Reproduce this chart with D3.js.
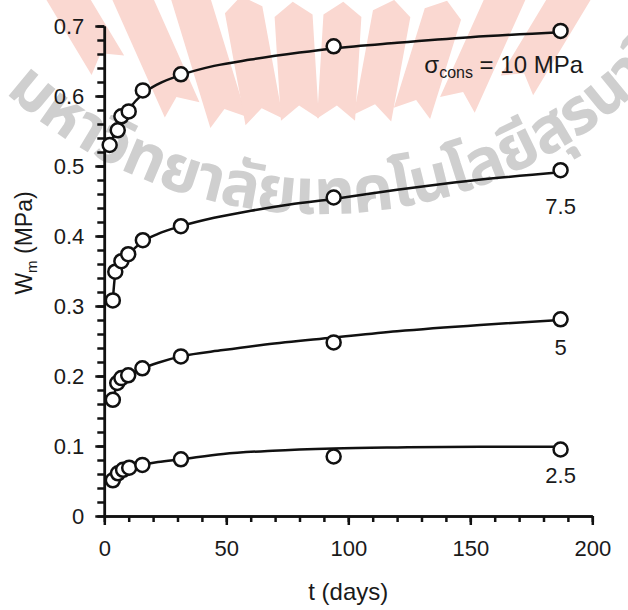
<!DOCTYPE html>
<html>
<head>
<meta charset="utf-8">
<script src="https://cdn.jsdelivr.net/npm/d3@7"></script>
<style>
  body { margin: 0; background: #fff; }
  svg { display: block; }
  text { font-family: Arial, "Liberation Sans", sans-serif; fill: #1a1a1a; }
</style>
</head>
<body>
<svg id="chart"></svg>
<script>
// measured points: t (days) and Wm (MPa) for each confining stress
const days10 = [2.2, 5.5, 7.0, 10.0, 15.8, 31.4, 94, 187]
const wm10   = [0.530, 0.551, 0.571, 0.578, 0.608, 0.631, 0.671, 0.693]
const days75 = [3.5, 4.5, 7.0, 9.8, 15.8, 31.4, 94, 187]
const wm75   = [0.308, 0.349, 0.364, 0.374, 0.394, 0.414, 0.455, 0.494]
const days5  = [3.5, 5.3, 7.0, 9.8, 15.6, 31.4, 94, 187]
const wm5    = [0.166, 0.190, 0.197, 0.201, 0.211, 0.228, 0.248, 0.281]
const days25 = [3.5, 5.6, 7.7, 10.2, 15.6, 31.4, 94, 187]
const wm25   = [0.051, 0.061, 0.066, 0.069, 0.073, 0.081, 0.085, 0.095]

// fitted curves
const fitDays10 = [2.2, 5.5, 7, 10, 15.8, 22, 31.4, 45, 60, 80, 94, 120, 150, 187]
const fitWm10   = [0.530, 0.556, 0.566, 0.581, 0.603, 0.617, 0.630, 0.643, 0.652, 0.662, 0.668, 0.676, 0.684, 0.691]
const fitDays75 = [3.5, 4.5, 7, 10, 15.8, 22, 31.4, 45, 60, 76, 94, 120, 150, 187]
const fitWm75   = [0.308, 0.345, 0.362, 0.374, 0.392, 0.403, 0.414, 0.426, 0.436, 0.445, 0.453, 0.466, 0.479, 0.491]
const fitDays5  = [3.5, 5.3, 7, 10, 15.6, 22, 31.4, 48.7, 66, 94, 120, 154, 187]
const fitWm5    = [0.166, 0.188, 0.196, 0.202, 0.211, 0.219, 0.228, 0.237, 0.245, 0.255, 0.264, 0.273, 0.280]
const fitDays25 = [3.5, 5.6, 7.7, 10.2, 15.6, 22, 31.4, 48.7, 69, 94, 120, 154, 187]
const fitWm25   = [0.051, 0.060, 0.065, 0.069, 0.073, 0.077, 0.081, 0.0886, 0.0933, 0.0965, 0.098, 0.099, 0.099]

const stressLabels = ["10", "7.5", "5", "2.5"]

const xTickValues = [0, 50, 100, 150, 200]
const xTickLabels = ["0", "50", "100", "150", "200"]
const yTickValues = [0, 0.1, 0.2, 0.3, 0.4, 0.5, 0.6, 0.7]
const yTickLabels = ["0", "0.1", "0.2", "0.3", "0.4", "0.5", "0.6", "0.7"]

const watermarkText = "มหาวิทยาลัยเทคโนโลยีสุรนารี"

const width = 628, height = 610

const svg = d3.select("#chart")
    .attr("width", width)
    .attr("height", height)

const x = d3.scaleLinear().domain([0, 200]).range([104.3, 592.3])
const y = d3.scaleLinear().domain([0, 0.7]).range([516, 26])

/*
 * background watermark: pink fan + grey arc text
 */
const fan = [
    // angle, inner radius, outer radius
    [-31, 408, 560], [-24, 334, 560], [-17, 306, 560], [-10.4, 298, 412],
    [-3.5, 296, 400], [3.5, 296, 400], [10.4, 302, 408], [17.3, 316, 420],
    [24.2, 340, 560], [31.1, 385, 560]
]
const fanG = svg.append("g").attr("transform", "translate(318,415)")
fanG.selectAll("path")
    .data(fan)
    .join("path")
    .attr("transform", d => `rotate(${d[0]})`)
    .attr("fill", "#fad8d1")
    .attr("d", d => {
        const hw = 19, n = 14
        return `M${-hw},${-d[1]} L0,${-d[1] - n} L${hw},${-d[1]} L${hw},${-d[2]} L0,${-d[2] - n} L${-hw},${-d[2]} Z`
    })

// arc for the watermark text: centre (321,-256), radius 470
const wmR = 470, wmCx = 321, wmCy = -256
const a0 = -42.2 * Math.PI / 180, a1 = 48.9 * Math.PI / 180
svg.append("path")
    .attr("id", "wmArc")
    .attr("fill", "none")
    .attr("d", `M ${wmCx + wmR * Math.sin(a0)},${wmCy + wmR * Math.cos(a0)} ` +
               `A ${wmR},${wmR} 0 0,0 ${wmCx + wmR * Math.sin(a1)},${wmCy + wmR * Math.cos(a1)}`)

svg.append("text")
    .attr("font-size", 64)
    .attr("font-weight", "bold")
    .style("font-family", "'Noto Sans Thai', 'DejaVu Sans', sans-serif")
    .style("fill", "#cfcfcf")
    .append("textPath")
    .attr("href", "#wmArc")
    .attr("textLength", wmR * (a1 - a0))
    .attr("lengthAdjust", "spacing")
    .text(watermarkText)

/*
 * axes
 */
const axisG = svg.append("g")

// minor ticks
axisG.append("g")
    .attr("transform", `translate(0,${y(0)})`)
    .call(d3.axisBottom(x).tickValues(d3.range(0, 201, 10)).tickSize(6).tickFormat("").tickSizeOuter(0))
axisG.append("g")
    .attr("transform", `translate(${x(0)},0)`)
    .call(d3.axisLeft(y).tickValues(d3.range(0, 0.701, 0.02)).tickSize(7).tickFormat("").tickSizeOuter(0))

// major ticks
axisG.append("g")
    .attr("transform", `translate(0,${y(0)})`)
    .call(d3.axisBottom(x).tickValues(xTickValues).tickSize(9).tickPadding(15)
        .tickFormat((d, i) => xTickLabels[i]).tickSizeOuter(0))
axisG.append("g")
    .attr("transform", `translate(${x(0)},0)`)
    .call(d3.axisLeft(y).tickValues(yTickValues).tickSize(9).tickPadding(11)
        .tickFormat((d, i) => yTickLabels[i]).tickSizeOuter(0))

axisG.selectAll(".domain").attr("stroke", "#111").attr("stroke-width", 2.5)
axisG.selectAll(".tick line").attr("stroke", "#111").attr("stroke-width", 2.5)
axisG.selectAll(".tick text")
    .attr("font-size", 22)
    .style("font-family", "Arial, 'Liberation Sans', sans-serif")
    .style("fill", "#1a1a1a")

// axis titles
svg.append("text")
    .attr("x", (x(0) + x(200)) / 2)
    .attr("y", 600)
    .attr("text-anchor", "middle")
    .attr("font-size", 24)
    .text("t (days)")

const yTitle = svg.append("text")
    .attr("transform", "translate(32,243) rotate(-90)")
    .attr("text-anchor", "middle")
    .attr("font-size", 23)
yTitle.append("tspan").text("W")
yTitle.append("tspan").attr("font-size", 15).attr("dy", 5).text("m")
yTitle.append("tspan").attr("dy", -5).text(" (MPa)")

/*
 * fitted curves and measured points
 */
const fits = [
    [fitDays10, fitWm10], [fitDays75, fitWm75], [fitDays5, fitWm5], [fitDays25, fitWm25]
]
const measured = [
    [days10, wm10], [days75, wm75], [days5, wm5], [days25, wm25]
]

const line = d3.line()
    .x(d => x(d[0]))
    .y(d => y(d[1]))
    .curve(d3.curveMonotoneX)

svg.append("g")
    .selectAll("path")
    .data(fits)
    .join("path")
    .attr("fill", "none")
    .attr("stroke", "#111")
    .attr("stroke-width", 2.5)
    .attr("d", d => line(d[0].map((t, i) => [t, d[1][i]])))

svg.append("g")
    .selectAll("g")
    .data(measured)
    .join("g")
    .selectAll("circle")
    .data(d => d[0].map((t, i) => [t, d[1][i]]))
    .join("circle")
    .attr("cx", d => x(d[0]))
    .attr("cy", d => y(d[1]))
    .attr("r", 7)
    .attr("fill", "#fff")
    .attr("stroke", "#111")
    .attr("stroke-width", 2.5)

/*
 * series labels
 */
const lastDay = days10[days10.length - 1]

const sigma = svg.append("text")
    .attr("x", 583)
    .attr("y", y(wm10[wm10.length - 1]) + 42)
    .attr("text-anchor", "end")
    .attr("font-size", 24)
sigma.append("tspan").text("σ")
sigma.append("tspan").attr("font-size", 16).attr("dy", 5).text("cons")
sigma.append("tspan").attr("dy", -5).text(` = ${stressLabels[0]} MPa`)

const endVals = [wm75, wm5, wm25]
const labelDrop = [44, 36, 33]
svg.append("g")
    .selectAll("text")
    .data(stressLabels.slice(1))
    .join("text")
    .attr("x", x(lastDay))
    .attr("y", (d, i) => y(endVals[i][endVals[i].length - 1]) + labelDrop[i])
    .attr("text-anchor", "middle")
    .attr("font-size", 22)
    .text(d => d)
</script>
</body>
</html>
